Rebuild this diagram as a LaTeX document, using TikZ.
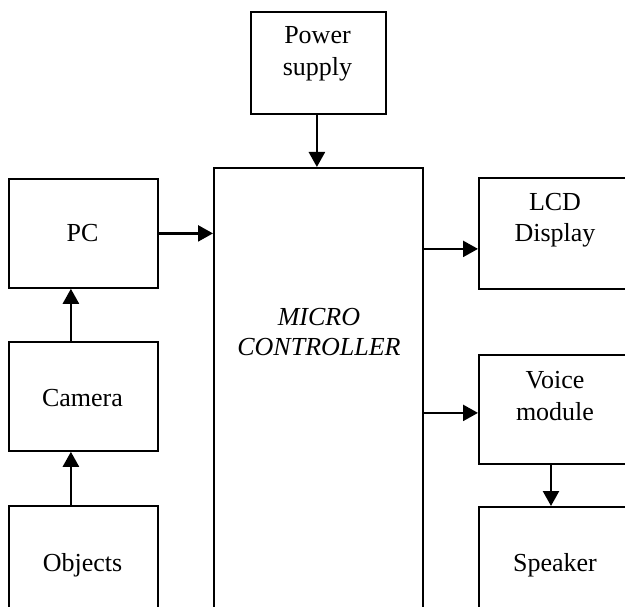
\documentclass[tikz,border=0pt]{standalone}
\usepackage{fontspec}
\setmainfont{Liberation Serif}
\usetikzlibrary{arrows.meta}
\begin{document}
\begin{tikzpicture}[x=1pt,y=-1pt,
  box/.style={draw,line width=1.8pt,rectangle,inner sep=0pt,anchor=north west},
  txt/.style={align=center,font=\fontsize{26}{31.5}\selectfont,inner sep=0pt},
  arr/.style={line width=2.4pt,-{Triangle[length=15pt,width=16pt]}}]
\useasboundingbox (0,0) rectangle (625,607);
\begin{scope}
\clip (0,0) rectangle (625,607);
\node[box,minimum width=135pt,minimum height=102pt] (ps) at (250,11) {};
\node[txt] (pst) at (317.5,54) {Power\\supply};
\node[box,minimum width=209pt,minimum height=460pt] (micro) at (213,167) {};
\node[txt,font=\fontsize{26}{30.5}\selectfont\itshape] (microt) at (319,332) {MICRO\\CONTROLLER};
\node[box,minimum width=149pt,minimum height=109pt] (pc) at (8,178) {};
\node[txt] (pct) at (82.5,233) {PC};
\node[box,minimum width=149pt,minimum height=109pt] (cam) at (8,341) {};
\node[txt] (camt) at (82.5,398) {Camera};
\node[box,minimum width=149pt,minimum height=120pt] (obj) at (8,505) {};
\node[txt] (objt) at (82.5,565) {Objects};
\node[box,minimum width=154pt,minimum height=111pt] (lcd) at (478,177) {};
\node[txt] (lcdt) at (555,220) {LCD\\Display};
\node[box,minimum width=154pt,minimum height=109pt] (voice) at (478,354) {};
\node[txt] (voicet) at (555,396) {Voice\\module};
\node[box,minimum width=154pt,minimum height=120pt] (spk) at (478,506) {};
\node[txt] (spkt) at (555,565) {Speaker};
\end{scope}
\coordinate (pa) at ([xshift=-1.5pt]ps.south);
\draw[arr] (pa) -- (pa |- micro.north);
\draw[arr] (pc.east) -- (pc.east -| micro.west);
\coordinate (ca) at ([xshift=-12.5pt]cam.north);
\draw[arr] (ca) -- (ca |- pc.south);
\coordinate (oa) at ([xshift=-12.5pt]obj.north);
\draw[arr] (oa) -- (oa |- cam.south);
\coordinate (la) at ([yshift=-15.5pt]lcd.west);
\draw[arr] (la -| micro.east) -- (la);
\coordinate (va) at ([yshift=-3.5pt]voice.west);
\draw[arr] (va -| micro.east) -- (va);
\coordinate (sa) at (551,0);
\draw[arr] (sa |- voice.south) -- (sa |- spk.north);
\end{tikzpicture}
\end{document}
